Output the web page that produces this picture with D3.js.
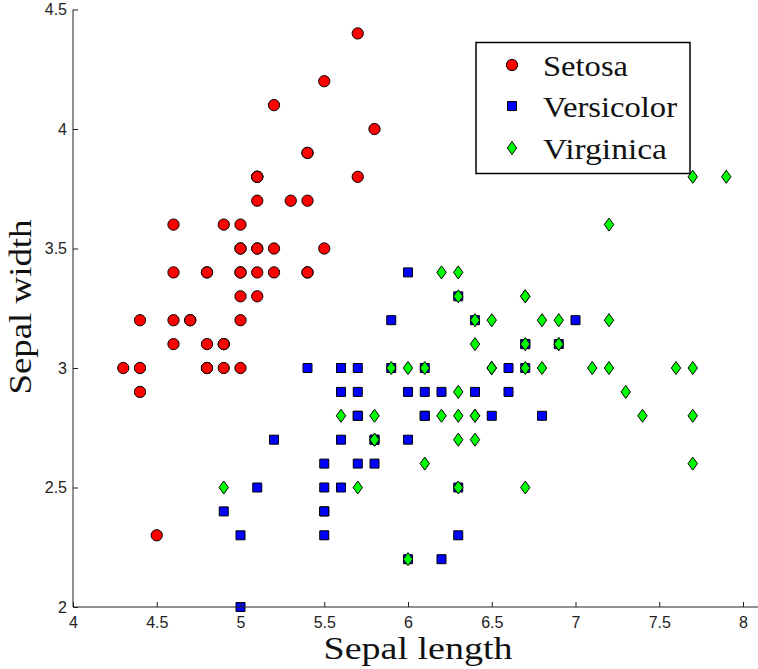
<!DOCTYPE html>
<html>
<head>
<meta charset="utf-8">
<script src="https://cdn.jsdelivr.net/npm/d3@7"></script>
<style>
  html, body { margin: 0; padding: 0; background: #fff; }
  svg { display: block; }
</style>
</head>
<body>
<div id="chart"></div>
<script>
// Iris data: sepal length / sepal width
const setosaLength = [5.1,4.9,4.7,4.6,5.0,5.4,4.6,5.0,4.4,4.9,5.4,4.8,4.8,4.3,5.8,5.7,5.4,5.1,5.7,5.1,5.4,5.1,4.6,5.1,4.8,5.0,5.0,5.2,5.2,4.7,4.8,5.4,5.2,5.5,4.9,5.0,5.5,4.9,4.4,5.1,5.0,4.5,4.4,5.0,5.1,4.8,5.1,4.6,5.3,5.0];
const setosaWidth  = [3.5,3.0,3.2,3.1,3.6,3.9,3.4,3.4,2.9,3.1,3.7,3.4,3.0,3.0,4.0,4.4,3.9,3.5,3.8,3.8,3.4,3.7,3.6,3.3,3.4,3.0,3.4,3.5,3.4,3.2,3.1,3.4,4.1,4.2,3.1,3.2,3.5,3.6,3.0,3.4,3.5,2.3,3.2,3.5,3.8,3.0,3.8,3.2,3.7,3.3];
const versicolorLength = [7.0,6.4,6.9,5.5,6.5,5.7,6.3,4.9,6.6,5.2,5.0,5.9,6.0,6.1,5.6,6.7,5.6,5.8,6.2,5.6,5.9,6.1,6.3,6.1,6.4,6.6,6.8,6.7,6.0,5.7,5.5,5.5,5.8,6.0,5.4,6.0,6.7,6.3,5.6,5.5,5.5,6.1,5.8,5.0,5.6,5.7,5.7,6.2,5.1,5.7];
const versicolorWidth  = [3.2,3.2,3.1,2.3,2.8,2.8,3.3,2.4,2.9,2.7,2.0,3.0,2.2,2.9,2.9,3.1,3.0,2.7,2.2,2.5,3.2,2.8,2.5,2.8,2.9,3.0,2.8,3.0,2.9,2.6,2.4,2.4,2.7,2.7,3.0,3.4,3.1,2.3,3.0,2.5,2.6,3.0,2.6,2.3,2.7,3.0,2.9,2.9,2.5,2.8];
const virginicaLength = [6.3,5.8,7.1,6.3,6.5,7.6,4.9,7.3,6.7,7.2,6.5,6.4,6.8,5.7,5.8,6.4,6.5,7.7,7.7,6.0,6.9,5.6,7.7,6.3,6.7,7.2,6.2,6.1,6.4,7.2,7.4,7.9,6.4,6.3,6.1,7.7,6.3,6.4,6.0,6.9,6.7,6.9,5.8,6.8,6.7,6.7,6.3,6.5,6.2,5.9];
const virginicaWidth  = [3.3,2.7,3.0,2.9,3.0,3.0,2.5,2.9,2.5,3.6,3.2,2.7,3.0,2.5,2.8,3.2,3.0,3.8,2.6,2.2,3.2,2.8,2.8,2.7,3.3,3.2,2.8,3.0,2.8,3.0,2.8,3.8,2.8,2.8,2.6,3.0,3.4,3.1,3.0,3.1,3.1,3.1,2.7,3.2,3.3,3.0,2.5,3.0,3.4,3.0];

const speciesNames = ["Setosa", "Versicolor", "Virginica"];
const xTicks = [4, 4.5, 5, 5.5, 6, 6.5, 7, 7.5, 8];
const yTicks = [2, 2.5, 3, 3.5, 4, 4.5];

const width = 758, height = 669;
const serif = "'Liberation Serif', 'DejaVu Serif', serif";
const sans = "'Liberation Sans', Arial, sans-serif";

const x = d3.scaleLinear().domain([4, 8]).range([73, 743]);
const y = d3.scaleLinear().domain([2, 4.5]).range([607, 9.5]);

const svg = d3.select("#chart").append("svg")
  .attr("width", width)
  .attr("height", height);

const series = [
  { name: speciesNames[0], xs: setosaLength, ys: setosaWidth, color: "#ff0000", symbol: d3.symbolCircle, size: 100, labelWidth: 85 },
  { name: speciesNames[1], xs: versicolorLength, ys: versicolorWidth, color: "#0000ff", symbol: d3.symbolSquare, size: 81, labelWidth: 134 },
  { name: speciesNames[2], xs: virginicaLength, ys: virginicaWidth, color: "#00ff00", symbol: "diamond", size: 0, labelWidth: 124 }
];

// MATLAB style diamond: narrower than tall
function markerPath(s) {
  if (s.symbol === "diamond") return "M0,-6.5L4.7,0L0,6.5L-4.7,0Z";
  return d3.symbol(s.symbol, s.size)();
}

// points
series.forEach(s => {
  svg.append("g").selectAll("path")
    .data(s.xs.map((v, i) => [v, s.ys[i]]))
    .enter().append("path")
    .attr("d", markerPath(s))
    .attr("transform", d => "translate(" + x(d[0]) + "," + y(d[1]) + ")")
    .attr("fill", s.color)
    .attr("stroke", "#000")
    .attr("stroke-width", 1);
});

// axes (ticks pointing inward, MATLAB look)
const xAxis = svg.append("g")
  .attr("transform", "translate(0," + y(2) + ")")
  .call(d3.axisTop(x).tickValues(xTicks).tickSize(5).tickFormat(d3.format("")));
xAxis.select(".domain").remove();
xAxis.append("line")
  .attr("x1", x(4)).attr("x2", width).attr("y1", 0).attr("y2", 0)
  .attr("stroke", "#222").attr("stroke-width", 1);
xAxis.selectAll(".tick line").attr("stroke", "#222");
xAxis.selectAll(".tick text")
  .attr("y", 21)
  .attr("dy", "0")
  .attr("fill", "#222")
  .style("font", "16px " + sans);

const yAxis = svg.append("g")
  .attr("transform", "translate(" + x(4) + ",0)")
  .call(d3.axisRight(y).tickValues(yTicks).tickSize(5).tickFormat(d3.format("")));
yAxis.select(".domain").remove();
yAxis.append("line")
  .attr("x1", 0).attr("x2", 0).attr("y1", y(4.5)).attr("y2", y(2))
  .attr("stroke", "#222").attr("stroke-width", 1);
yAxis.selectAll(".tick line").attr("stroke", "#222");
yAxis.selectAll(".tick text")
  .attr("x", -6)
  .attr("text-anchor", "end")
  .attr("fill", "#222")
  .style("font", "16px " + sans);

// axis titles
svg.append("text")
  .attr("x", 418).attr("y", 659)
  .attr("text-anchor", "middle")
  .attr("textLength", 189)
  .attr("lengthAdjust", "spacingAndGlyphs")
  .style("font", "32px " + serif)
  .attr("fill", "#111")
  .text("Sepal length");

svg.append("text")
  .attr("transform", "translate(31," + 307 + ") rotate(-90)")
  .attr("text-anchor", "middle")
  .attr("textLength", 175)
  .attr("lengthAdjust", "spacingAndGlyphs")
  .style("font", "32px " + serif)
  .attr("fill", "#111")
  .text("Sepal width");

// legend
const legend = svg.append("g");
legend.append("rect")
  .attr("x", 476).attr("y", 42.5)
  .attr("width", 214).attr("height", 131)
  .attr("fill", "#fff")
  .attr("stroke", "#000")
  .attr("stroke-width", 1.5);

const rowY = [65, 106, 148];
series.forEach((s, i) => {
  legend.append("path")
    .attr("d", markerPath(s))
    .attr("transform", "translate(512," + rowY[i] + ")")
    .attr("fill", s.color)
    .attr("stroke", "#000");
  legend.append("text")
    .attr("x", 543).attr("y", rowY[i] + 10.5)
    .attr("textLength", s.labelWidth)
    .attr("lengthAdjust", "spacingAndGlyphs")
    .style("font", "30px " + serif)
    .attr("fill", "#111")
    .text(s.name);
});
</script>
</body>
</html>
